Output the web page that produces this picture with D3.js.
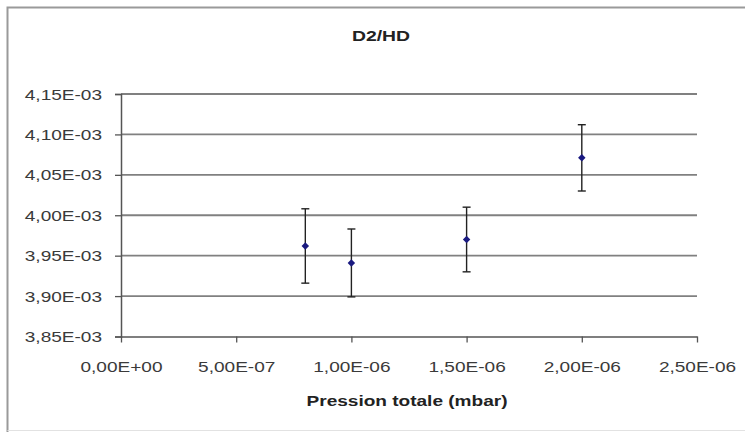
<!DOCTYPE html>
<html>
<head>
<meta charset="utf-8">
<script src="https://cdn.jsdelivr.net/npm/d3@7"></script>
<style>
  html, body { margin: 0; padding: 0; background: #fff; }
  svg { display: block; }
  text { font-family: "Liberation Sans", Arial, sans-serif; }
</style>
</head>
<body>
<svg id="chart" width="745" height="432"></svg>
<script>
// ---- data ----
const chartTitle = "D2/HD";
const xAxisTitle = "Pression totale (mbar)";
const pressure = [8e-7, 1e-6, 1.5e-6, 2e-6];
const ratio = [3.962e-3, 3.941e-3, 3.970e-3, 4.071e-3];
const errorBar = [4.6e-5, 4.2e-5, 4.0e-5, 4.1e-5];
const xTicks = [0, 5e-7, 1e-6, 1.5e-6, 2e-6, 2.5e-6];
const xTickLabels = ["0,00E+00", "5,00E-07", "1,00E-06", "1,50E-06", "2,00E-06", "2,50E-06"];
const yTicks = [3.85e-3, 3.90e-3, 3.95e-3, 4.00e-3, 4.05e-3, 4.10e-3, 4.15e-3];
const yTickLabels = ["3,85E-03", "3,90E-03", "3,95E-03", "4,00E-03", "4,05E-03", "4,10E-03", "4,15E-03"];

// ---- layout ----
const svg = d3.select("#chart");
const SX = 1.36; // horizontal text stretch of the source image
const x = d3.scaleLinear().domain([0, 2.5e-6]).range([121, 697]);
const y = d3.scaleLinear().domain([3.85e-3, 4.15e-3]).range([336.5, 94]);

// outer frame
svg.append("path")
  .attr("d", "M7.5,432 L7.5,7.5 L745,7.5")
  .attr("fill", "none").attr("stroke", "#9a9a9a").attr("stroke-width", 2);
svg.append("line")
  .attr("x1", 7.5).attr("x2", 745).attr("y1", 430.5).attr("y2", 430.5)
  .attr("stroke", "#e2e2e2").attr("stroke-width", 1);

// gridlines
svg.append("g").selectAll("line")
  .data(yTicks.slice(1))
  .join("line")
  .attr("x1", x(0)).attr("x2", x(2.5e-6))
  .attr("y1", d => y(d)).attr("y2", d => y(d))
  .attr("stroke", "#808080").attr("stroke-width", 1.9);

// y axis
const yAxis = d3.axisLeft(y).tickValues(yTicks)
  .tickFormat((d, i) => yTickLabels[i]).tickSize(6).tickPadding(0);
const gy = svg.append("g").attr("transform", `translate(${x(0)},0)`).call(yAxis);
gy.select(".domain").attr("stroke", "#555").attr("stroke-width", 1.5);
gy.selectAll(".tick line").attr("stroke", "#555").attr("stroke-width", 1.3);
gy.selectAll(".tick text")
  .attr("x", -19 / SX).attr("dy", "0.36em")
  .attr("transform", `scale(${SX},1)`)
  .attr("font-size", 14).attr("fill", "#3a3a3a");

// x axis
const xAxis = d3.axisBottom(x).tickValues(xTicks)
  .tickFormat((d, i) => xTickLabels[i]).tickSize(6).tickSizeOuter(0).tickPadding(0);
const gx = svg.append("g").attr("transform", `translate(0,${y(3.85e-3)})`).call(xAxis);
gx.select(".domain").attr("stroke", "#555").attr("stroke-width", 1.5);
gx.selectAll(".tick line").attr("stroke", "#555").attr("stroke-width", 1.3);
gx.selectAll(".tick text")
  .attr("y", 36).attr("dy", 0)
  .attr("transform", `scale(${SX},1)`)
  .attr("font-size", 14).attr("fill", "#3a3a3a");

// error bars
const eb = svg.append("g").attr("stroke", "#222").attr("stroke-width", 1.4);
pressure.forEach((p, i) => {
  const cx = x(p);
  const top = y(ratio[i] + errorBar[i]);
  const bot = y(ratio[i] - errorBar[i]);
  eb.append("line").attr("x1", cx).attr("x2", cx).attr("y1", top).attr("y2", bot);
  eb.append("line").attr("x1", cx - 4).attr("x2", cx + 4).attr("y1", top).attr("y2", top);
  eb.append("line").attr("x1", cx - 4).attr("x2", cx + 4).attr("y1", bot).attr("y2", bot);
});

// markers (Excel-style diamonds: rotated squares)
svg.append("g").selectAll("path")
  .data(pressure.map((p, i) => [p, ratio[i]]))
  .join("path")
  .attr("d", d3.symbol().type(d3.symbolSquare).size(28))
  .attr("transform", d => `translate(${x(d[0])},${y(d[1])}) rotate(45)`)
  .attr("fill", "#1a1a80");

// titles
svg.append("text")
  .attr("transform", `translate(381,41) scale(${SX * 0.95},1)`)
  .attr("text-anchor", "middle").attr("font-size", 15).attr("font-weight", "bold")
  .attr("fill", "#222").text(chartTitle);
svg.append("text")
  .attr("transform", `translate(407,406) scale(${SX},1)`)
  .attr("text-anchor", "middle").attr("font-size", 14).attr("font-weight", "bold")
  .attr("fill", "#222").text(xAxisTitle);
</script>
</body>
</html>
